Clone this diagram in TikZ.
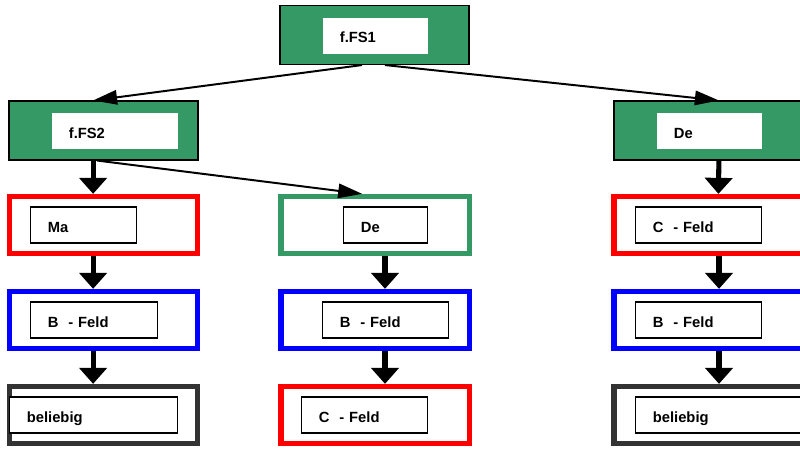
\documentclass[tikz,border=0pt]{standalone}
\usepackage{fontspec}
\setmainfont{Liberation Sans}
\usepackage{xcolor}
\usetikzlibrary{arrows.meta}
\definecolor{fsgreen}{RGB}{53,153,102}
\definecolor{dgray}{RGB}{51,51,51}

\begin{document}
\begin{tikzpicture}[x=0.025cm,y=-0.025cm,
	box/.style={draw, line width=3.6pt, minimum width=4.7cm, minimum height=1.43cm, inner sep=0pt},
	head box/.style={draw=black, fill=fsgreen, line width=0.9pt, minimum width=4.72cm, minimum height=1.47cm, inner sep=0pt},
	label box/.style={draw, fill=white, line width=0.9pt, anchor=west, minimum height=0.9cm, inner xsep=0.43cm, inner ysep=0pt, text height=10.3pt, text depth=0pt, align=left, font=\bfseries\fontsize{10.5}{12}\selectfont},
	big arrow/.style={-{Triangle[length=0.4cm,width=0.68cm]}, line width=3.6pt},
	small arrow/.style={-{Triangle[length=0.6cm,width=0.36cm]}, line width=1.4pt}]
			\useasboundingbox (0,0) rectangle (800,449);
			\clip (0,0) rectangle (800,449);
			
			% Nodes
			\node[head box] (1) at (374.5,35) {};
			\node[head box] (2) at (103.5,130.5) {};
			\node[head box] (3) at (708.5,130.5) {};
			\node[box, draw=red] (4) at (103.5,225) {};
			\node[box, draw=fsgreen] (5) at (375,225) {};
			\node[box, draw=red] (6) at (708,225) {};
			\node[box, draw=blue] (7) at (103.5,320) {};
			\node[box, draw=blue] (8) at (375,320) {};
			\node[box, draw=blue] (9) at (708,320) {};
			\node[box, draw=dgray] (10) at (103.5,415) {};
			\node[box, draw=red] (11) at (375,415) {};
			\node[box, draw=dgray] (12) at (708,415) {};
			
			% Labels
			\node[label box, draw=none, text width=1.765cm] (1t) at (322,35.5) {f.FS1};
			\node[label box, draw=none, text width=2.29cm] (2t) at (51,131) {f.FS2};
			\node[label box, draw=none, text width=1.765cm] (3t) at (656,131) {De};
			\node[label box, text width=1.79cm] (4t) at (30,225) {Ma};
			\node[label box, text width=1.24cm] (5t) at (343,225) {De};
			\node[label box, text width=2.29cm] (6t) at (635,225) {C\ \ - Feld};
			\node[label box, text width=2.315cm] (7t) at (30,320) {B\ \ - Feld};
			\node[label box, text width=2.29cm] (8t) at (322,320) {B\ \ - Feld};
			\node[label box, text width=2.29cm] (9t) at (635,320) {B\ \ - Feld};
			\node[label box, text width=3.34cm] (10t) at (9,415) {beliebig};
			\node[label box, text width=2.29cm] (11t) at (301,415) {C\ \ - Feld};
			\node[label box, text width=3.34cm] (12t) at (635,415) {beliebig};
			
			% Arrows
			\draw[small arrow] ([xshift=-0.31cm]1.south) -- ([xshift=-0.26cm]2.north);
			\draw[small arrow] ([xshift=0.26cm]1.south) -- ([xshift=0.26cm]3.north);
			\draw[small arrow] ([xshift=-0.16cm]2.south) -- ([xshift=-0.32cm]5.north);
			
			\draw[big arrow] ([xshift=-0.26cm]2.south) -- ([xshift=-0.26cm]4.north);
			\draw[big arrow] ([xshift=-0.26cm]4.south) -- ([xshift=-0.26cm]7.north);
			\draw[big arrow] ([xshift=-0.26cm]7.south) -- ([xshift=-0.26cm]10.north);
			\draw[big arrow] ([xshift=0.25cm]5.south) -- ([xshift=0.25cm]8.north);
			\draw[big arrow] ([xshift=0.25cm]8.south) -- ([xshift=0.25cm]11.north);
			\draw[big arrow] ([xshift=0.26cm]3.south) -- ([xshift=0.26cm]6.north);
			\draw[big arrow] ([xshift=0.275cm]6.south) -- ([xshift=0.275cm]9.north);
			\draw[big arrow] ([xshift=0.275cm]9.south) -- ([xshift=0.275cm]12.north);
			
\end{tikzpicture}
\end{document}
